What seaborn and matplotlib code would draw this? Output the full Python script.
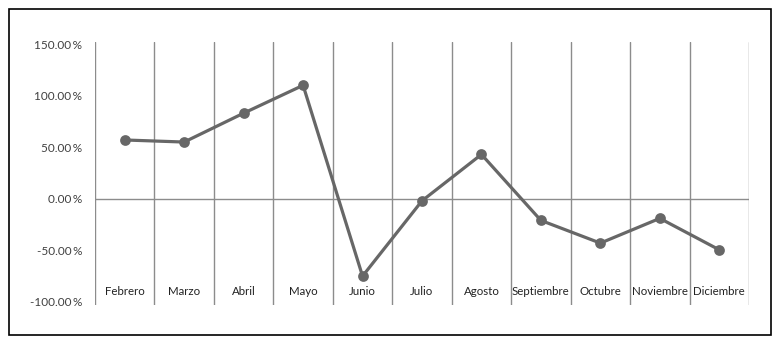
import matplotlib
matplotlib.use("Agg")
import matplotlib.pyplot as plt
import seaborn as sns
import pandas as pd
from matplotlib.patches import Rectangle
from matplotlib.ticker import FuncFormatter, FixedLocator

meses = ["Febrero", "Marzo", "Abril", "Mayo", "Junio", "Julio", "Agosto",
         "Septiembre", "Octubre", "Noviembre", "Diciembre"]
valores = [57, 55, 83, 110, -75, -2, 43, -21, -43, -19, -49.5]
yticks = [-100, -50, 0, 50, 100, 150]

df = pd.DataFrame({"mes": meses, "valor": valores})

sns.set_theme(style="white")
plt.rcParams["font.family"] = ["Lato", "DejaVu Sans"]

fig = plt.figure(figsize=(7.81, 3.44), dpi=100)
ax = fig.add_axes([95 / 781, 1 - 305 / 344, (749 - 95) / 781, (305 - 42) / 344])

line_col = "#676767"
sns.pointplot(data=df, x="mes", y="valor", color=line_col, ax=ax,
              markers="o", markersize=6, linewidth=2.3)

n = len(meses)
ax.set_xlim(-0.5, n - 0.5)
ax.set_ylim(-103, 152)

ax.xaxis.set_minor_locator(FixedLocator([i - 0.5 for i in range(n + 1)]))
ax.grid(False)
ax.grid(True, which="minor", axis="x", color="#8c8c8c", linewidth=1)
ax.axhline(0, color="#8c8c8c", linewidth=1, zorder=1)

ax.set_yticks(yticks)
ax.yaxis.set_major_formatter(FuncFormatter(lambda v, p: f"{v:.2f}\u2009%"))
ax.tick_params(axis="y", length=0, pad=9, labelsize=8.5, labelcolor="#404040")
ax.tick_params(axis="x", which="both", length=0, pad=-13.5, labelsize=8.3, labelcolor="#222222")
ax.set_xlabel("")
ax.set_ylabel("")
for s in ax.spines.values():
    s.set_visible(False)
for lab in ax.get_xticklabels():
    lab.set_zorder(5)

fig.patches.append(Rectangle((9 / 781, 1 - 335 / 344), (771 - 9) / 781, (335 - 9) / 344,
                             transform=fig.transFigure, fill=False,
                             edgecolor="black", linewidth=1.2))

fig.savefig("out.png", dpi=100)
